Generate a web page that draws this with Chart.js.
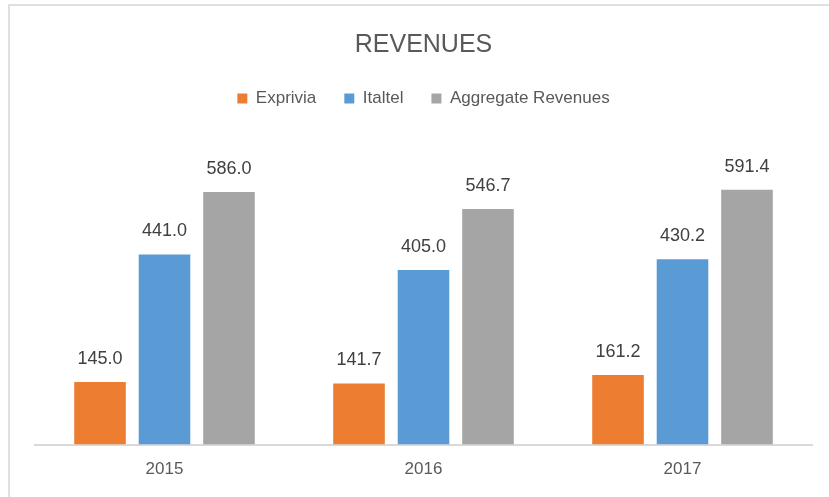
<!DOCTYPE html>
<html>
<head>
<meta charset="utf-8">
<script src="https://cdn.jsdelivr.net/npm/chart.js@4.4.0/dist/chart.umd.min.js"></script>
<style>
  html, body {
    margin: 0;
    padding: 0;
    background: #ffffff;
  }
  .wrap {
    position: relative;
    width: 829px;
    height: 497px;
    overflow: hidden;
  }
  .frame {
    position: absolute;
    left: 8px;
    top: 4px;
    right: -10px;
    bottom: -10px;
    border-top: 2px solid #e0e0e0;
    border-left: 2px solid #e0e0e0;
  }
  canvas {
    position: absolute;
    left: 0;
    top: 0;
  }
</style>
</head>
<body>
<div class="wrap">
  <div class="frame"></div>
  <canvas id="revenuesChart" width="829" height="497"></canvas>
</div>
<script>
// chart data
const years = ['2015', '2016', '2017'];
const exprivia = [145.0, 141.7, 161.2];
const italtel = [441.0, 405.0, 430.2];
const aggregate = [586.0, 546.7, 591.4];

const FONT = "'Liberation Sans', Arial, sans-serif";

// draws the value above each bar
const barValues = {
  id: 'barValues',
  afterDatasetsDraw(chart) {
    const ctx = chart.ctx;
    ctx.save();
    ctx.font = '18px ' + FONT;
    ctx.fillStyle = '#404040';
    ctx.textAlign = 'center';
    ctx.textBaseline = 'middle';
    chart.data.datasets.forEach((ds, i) => {
      chart.getDatasetMeta(i).data.forEach((bar, j) => {
        ctx.fillText(ds.data[j].toFixed(1), bar.x, bar.y - 23);
      });
    });
    ctx.restore();
  }
};

const ctx = document.getElementById('revenuesChart').getContext('2d');
new Chart(ctx, {
  type: 'bar',
  data: {
    labels: years,
    datasets: [
      { label: 'Exprivia', data: exprivia, backgroundColor: '#ed7d31', borderWidth: 0 },
      { label: 'Italtel', data: italtel, backgroundColor: '#5b9bd5', borderWidth: 0 },
      { label: 'Aggregate Revenues', data: aggregate, backgroundColor: '#a5a5a5', borderWidth: 0 }
    ]
  },
  options: {
    responsive: false,
    animation: false,
    devicePixelRatio: 1,
    layout: {
      padding: { left: 35, right: 17, top: 0, bottom: 2 }
    },
    datasets: {
      bar: {
        categoryPercentage: 0.747,
        barPercentage: 0.8
      }
    },
    plugins: {
      title: {
        display: true,
        text: 'REVENUES',
        color: '#595959',
        font: { family: FONT, size: 25, weight: 'normal' },
        padding: { top: 30, bottom: 2 }
      },
      legend: {
        display: true,
        position: 'top',
        labels: {
          color: '#595959',
          font: { family: FONT, size: 17 },
          boxWidth: 10,
          boxHeight: 10,
          padding: 28
        }
      },
      tooltip: { enabled: false }
    },
    scales: {
      x: {
        grid: { display: false, drawTicks: false },
        border: { display: true, color: '#d9d9d9', width: 2 },
        ticks: {
          color: '#595959',
          font: { family: FONT, size: 17 },
          padding: 15
        }
      },
      y: {
        display: false,
        min: 0,
        max: 760
      }
    }
  },
  plugins: [barValues]
});
</script>
</body>
</html>
